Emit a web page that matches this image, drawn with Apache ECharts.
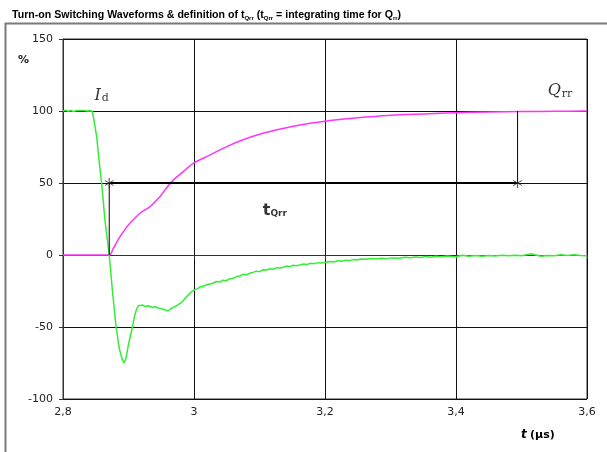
<!DOCTYPE html>
<html><head><meta charset="utf-8">
<script src="https://cdn.jsdelivr.net/npm/echarts@6/dist/echarts.min.js"></script>
<style>html,body{margin:0;padding:0;background:#fff}#c{width:607px;height:452px}</style>
</head><body><div id="c"></div>
<script>
// X axis tick labels and Y axis ticks
const xTicks = [2.8, 3.0, 3.2, 3.4, 3.6];
const yTicks = [-100, -50, 0, 50, 100, 150];

// Id (green) waveform, time in µs and value in %
const idT = [2.800,2.804,2.808,2.812,2.816,2.820,2.823,2.826,2.829,2.832,2.836,2.840,2.8447,2.848,2.8514,2.8554,2.859,2.864,2.8706,2.8755,2.881,2.886,2.890,2.893,2.896,2.900,2.906,2.909,2.912,2.915,2.9175,2.922,2.926,2.930,2.933,2.937,2.941,2.945,2.948,2.952,2.956,2.9607,2.964,2.968,2.972,2.976,2.9785,2.982,2.9887,2.993,2.997,3.0003,3.005,3.010,3.015,3.019,3.024,3.029,3.034,3.0396,3.044,3.049,3.054,3.060,3.065,3.070,3.075,3.080,3.085,3.090,3.095,3.100,3.105,3.111,3.116,3.121,3.126,3.131,3.136,3.141,3.146,3.151,3.156,3.1616,3.167,3.172,3.178,3.184,3.190,3.195,3.201,3.207,3.213,3.219,3.225,3.231,3.237,3.243,3.249,3.255,3.263,3.270,3.278,3.286,3.294,3.302,3.314,3.322,3.330,3.338,3.346,3.354,3.362,3.370,3.378,3.386,3.394,3.400,3.410,3.420,3.430,3.440,3.450,3.460,3.470,3.480,3.490,3.500,3.510,3.515,3.520,3.530,3.540,3.550,3.560,3.570,3.580,3.590,3.600];
const idV = [100,100.5,99.8,100.3,99.6,100.2,99.7,100.4,99.8,100.3,100.0,100.2,100,92,82,64,50,24.3,0,-25,-50,-65,-72,-75,-72,-62,-50,-43,-38,-35.2,-34.3,-34.8,-35.8,-35.2,-35.6,-36.5,-35.9,-36.8,-36.3,-37.5,-38.2,-38.9,-37.5,-36.4,-35.6,-34.4,-33.6,-32.5,-29,-27,-25.2,-24.3,-23.5,-22.0,-21.6,-20.8,-20.1,-19.6,-18.4,-18.8,-17.5,-17.9,-16.6,-16.2,-15.0,-14.6,-13.4,-13.8,-12.7,-12.1,-11.2,-11.6,-10.3,-10.4,-9.6,-9.9,-8.8,-9.1,-8.5,-7.7,-8.1,-7.2,-7.4,-6.9,-6.2,-6.6,-5.8,-6.0,-5.3,-5.6,-5.1,-4.5,-4.8,-4.0,-4.4,-3.6,-3.9,-3.2,-3.5,-2.8,-3.0,-2.5,-2.8,-2.2,-2.6,-2.0,-2.3,-1.6,-1.9,-1.4,-1.8,-1.1,-1.5,-0.9,-1.3,-0.7,-1.1,-1.2,-0.2,-0.8,-0.3,-0.9,-0.4,-0.7,-0.2,-0.6,-0.1,-0.5,0.3,0.8,0.2,-0.8,-0.3,-0.6,0.1,-0.4,0.2,-0.3,-0.5];

// Qrr (magenta) integrated charge, time in µs and value in %
const qrrT = [2.800,2.8706,2.8768,2.887,2.895,2.9022,2.910,2.9175,2.925,2.9327,2.940,2.948,2.958,2.9683,2.9836,2.9988,3.0243,3.050,3.075,3.100,3.125,3.150,3.175,3.200,3.225,3.250,3.275,3.300,3.350,3.400,3.450,3.500,3.550,3.600];
const qrrV = [0,0,4.6,12.7,18,22,25.7,29,31.3,33.5,36.8,40.5,46.5,52,57.9,63.7,69.4,75.3,80,83.8,86.8,89.3,91.3,92.9,94.2,95.3,96.2,97,98,98.8,99.3,99.6,99.8,100];

// tQrr definition markers (µs, %)
const tQrrStart = 2.8706;
const tQrrEnd = 3.494;
const halfLevel = 50;
const fullLevel = 100;
const zeroLevel = 0;

// text annotation anchors (µs, %)
const labelId = [2.848, 111];
const labelQrr = [3.540, 114];
const labelTQrr = [3.105, 31];

const zip = (a, b) => a.map((v, i) => [v, b[i]]);
const starPath = 'path://M5,0L5,10M0.67,2.5L9.33,7.5M0.67,7.5L9.33,2.5';
const FONT = '"DejaVu Sans", Verdana, sans-serif';
const TFONT = '"Liberation Sans", Arial, sans-serif';

const chart = echarts.init(document.getElementById('c'), null, {renderer: 'canvas'});
chart.setOption({
  animation: false,
  backgroundColor: '#fff',
  title: {
    text: 'Turn-on Switching Waveforms & definition of t{s|Qrr} (t{s|Qrr} = integrating time for Q{s|rr})',
    left: 7, top: 5,
    textStyle: {
      fontFamily: TFONT, fontSize: 10.6, fontWeight: 'bold', color: '#000',
      rich: { s: { fontFamily: TFONT, fontSize: 6, fontWeight: 'bold', color: '#000', verticalAlign: 'bottom', padding: [4, 0, 0, 0] } }
    }
  },
  graphic: [
    { type: 'rect', left: 3, top: 21, shape: { width: 640, height: 460 }, style: { fill: 'none', stroke: '#7a7a7a', lineWidth: 2 }, z: 0 },
    { type: 'text', left: 18, top: 55, style: { text: '%', font: 'bold 11px ' + FONT, fill: '#222' } },
    { type: 'text', left: 521, top: 429, style: { text: '{i|t} {b|(µs)}', rich: { i: { fontFamily: FONT, fontStyle: 'italic', fontWeight: 'bold', fontSize: 12, fill: '#000' }, b: { fontFamily: FONT, fontWeight: 'bold', fontSize: 11, fill: '#000' } } } }
  ],
  grid: { left: 63, right: 20, top: 39, bottom: 53, show: true, borderColor: '#333', borderWidth: 1, backgroundColor: '#fff' },
  xAxis: {
    type: 'value', min: 2.8, max: 3.6, interval: 0.2,
    axisLine: { show: true, lineStyle: { color: '#333', width: 1 } },
    axisTick: { show: true, length: 4, lineStyle: { color: '#333' } },
    axisLabel: { fontFamily: FONT, fontSize: 11, color: '#222', margin: 8,
      formatter: v => String(+v.toFixed(1)).replace('.', ',') },
    splitLine: { show: true, lineStyle: { color: '#111', width: 1 } }
  },
  yAxis: {
    type: 'value', min: yTicks[0], max: yTicks[yTicks.length - 1], interval: 50,
    axisLine: { show: true, lineStyle: { color: '#333', width: 1 } },
    axisTick: { show: true, length: 4, lineStyle: { color: '#333' } },
    axisLabel: { fontFamily: FONT, fontSize: 11, color: '#222', margin: 10 },
    splitLine: { show: true, lineStyle: { color: '#111', width: 1 } }
  },
  series: [
    { name: 'Qrr', type: 'line', data: zip(qrrT, qrrV), showSymbol: false, symbol: 'none', smooth: 0.3,
      lineStyle: { color: '#ff33ff', width: 1.5 }, z: 3 },
    { name: 'Id', type: 'line', data: zip(idT, idV), showSymbol: false, symbol: 'none',
      lineStyle: { color: '#33ee33', width: 1.5 }, z: 4 },
    { name: 'tQrr', type: 'line', data: [[tQrrStart, halfLevel], [tQrrEnd, halfLevel]], symbol: 'none',
      lineStyle: { color: '#000', width: 2 }, z: 5 },
    { name: 'vStart', type: 'line', data: [[tQrrStart, zeroLevel], [tQrrStart, halfLevel]], symbol: 'none',
      lineStyle: { color: '#000', width: 1 }, z: 5 },
    { name: 'vEnd', type: 'line', data: [[tQrrEnd, halfLevel], [tQrrEnd, fullLevel]], symbol: 'none',
      lineStyle: { color: '#000', width: 1 }, z: 5 },
    { name: 'stars', type: 'scatter', data: [[tQrrStart, halfLevel], [tQrrEnd, halfLevel]], symbol: starPath, symbolSize: 10, symbolKeepAspect: true,
      itemStyle: { color: 'rgba(0,0,0,0)', borderColor: '#222', borderWidth: 1 }, z: 6 },
    { name: 'labels', type: 'scatter', symbolSize: 0, z: 7, silent: true,
      data: [
        { value: labelId, label: { formatter: '{i|I}{d|d}' } },
        { value: labelQrr, label: { formatter: '{i|Q}{d|rr}' } },
        { value: labelTQrr, label: { formatter: '{t|t}{q|Qrr}' } }
      ],
      label: { show: true, position: 'right', distance: 0,
        rich: {
          i: { fontFamily: '"DejaVu Serif", "Liberation Serif", serif', fontStyle: 'italic', fontSize: 16, color: '#000', verticalAlign: 'bottom' },
          d: { fontFamily: '"DejaVu Serif", "Liberation Serif", serif', fontSize: 11, color: '#000', verticalAlign: 'bottom', padding: [6, 0, 0, 1] },
          t: { fontFamily: FONT, fontWeight: 'bold', fontSize: 16, color: '#000', verticalAlign: 'bottom' },
          q: { fontFamily: FONT, fontWeight: 'bold', fontSize: 9, color: '#000', verticalAlign: 'bottom', padding: [6, 0, 0, 0] }
        }
      }
    }
  ]
});
</script></body></html>
